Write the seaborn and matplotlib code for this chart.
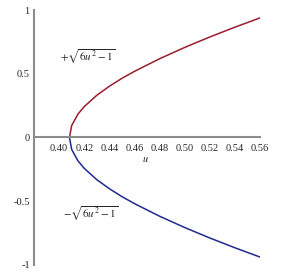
import matplotlib
matplotlib.use("Agg")
import matplotlib.pyplot as plt
import matplotlib.ticker as mticker
import seaborn as sns
import pandas as pd

# values
u_vals = [0.4083, 0.41, 0.415, 0.42, 0.43, 0.44, 0.45, 0.46, 0.48, 0.50, 0.52, 0.54, 0.56]
upper_vals = [0.0, 0.093, 0.183, 0.242, 0.331, 0.402, 0.464, 0.519, 0.618, 0.707, 0.789, 0.866, 0.939]
lower_vals = [-v for v in upper_vals]
x_ticks = [0.40, 0.42, 0.44, 0.46, 0.48, 0.50, 0.52, 0.54, 0.56]
y_ticks = [-1, -0.5, 0, 0.5, 1]
y_tick_labels = ["-1", "-0.5", "0", "0.5", "1"]

df = pd.DataFrame({"u": u_vals, "upper": upper_vals, "lower": lower_vals})

sns.set_style("white")
plt.rcParams["font.family"] = ["Liberation Serif", "DejaVu Serif"]
plt.rcParams["mathtext.fontset"] = "stix"

fig = plt.figure(figsize=(2.9, 2.8), dpi=100)
ax = fig.add_axes([0.117, 0.054, 0.78, 0.91])

sns.lineplot(data=df, x="u", y="upper", ax=ax, color="#9b1c2e", linewidth=1.1, sort=False)
sns.lineplot(data=df, x="u", y="lower", ax=ax, color="#1f2a8f", linewidth=1.1, sort=False)

ax.set_xlim(0.38, 0.56)
ax.set_ylim(-1, 1)

# Maple-like axes: y axis on the left, x axis through zero
ax.spines["top"].set_visible(False)
ax.spines["right"].set_visible(False)
ax.spines["bottom"].set_position(("data", 0))
for s in ("left", "bottom"):
    ax.spines[s].set_color("#8c8c8c")
    ax.spines[s].set_linewidth(1.5)

ax.set_xticks(x_ticks)
ax.set_xticklabels([f"{t:.2f}" for t in x_ticks])
ax.set_yticks(y_ticks)
ax.set_yticklabels(y_tick_labels)
ax.xaxis.set_minor_locator(mticker.MultipleLocator(0.01))
ax.yaxis.set_minor_locator(mticker.MultipleLocator(0.1))
ax.tick_params(axis="both", which="both", direction="in", color="#9a9a9a",
               labelsize=7.5, pad=3)
ax.tick_params(which="major", length=3, width=0.6)
ax.tick_params(which="minor", length=2, width=0.5)
ax.tick_params(axis="x", pad=5)

ax.set_xlabel("")
ax.set_ylabel("")
ax.text(0.469, -0.17, "$u$", fontsize=7.5, ha="center", va="center")

ax.text(0.401, 0.63, r"$+\sqrt{6u^2-1}$", fontsize=8, ha="left", va="center")
ax.text(0.403, -0.60, r"$-\sqrt{6u^2-1}$", fontsize=8, ha="left", va="center")

plt.savefig("out.png", dpi=100)
